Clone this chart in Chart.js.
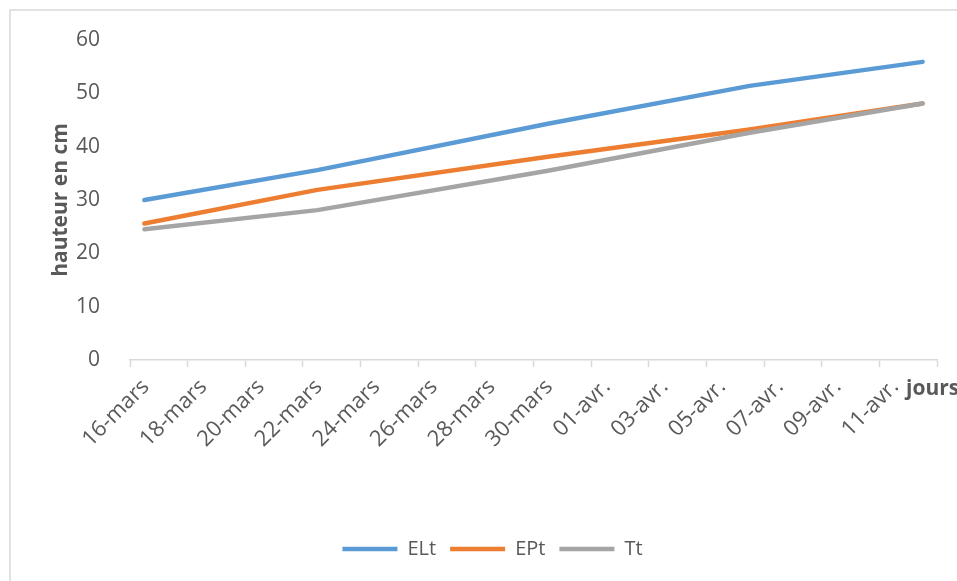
<!DOCTYPE html>
<html>
<head>
<meta charset="utf-8">
<script src="https://cdn.jsdelivr.net/npm/chart.js@4/dist/chart.umd.min.js"></script>
<style>
  html, body { margin: 0; padding: 0; background: #ffffff; }
  #wrap { position: relative; width: 957px; height: 581px; overflow: hidden; }
  canvas { display: block; }
</style>
</head>
<body>
<div id="wrap"><canvas id="c" width="957" height="581"></canvas></div>
<script>
// Measurement days (days counted from 16 March) and their dates
const measureDays = [0, 6, 14, 21, 27];
const measureDates = ['16-mars', '22-mars', '30-mars', '06-avr.', '12-avr.'];

// Plant height (cm) per treatment
const ELt = [30.0, 35.6, 44.3, 51.4, 55.9];
const EPt = [25.6, 31.9, 38.1, 43.2, 48.1];
const Tt  = [24.5, 28.1, 35.5, 42.6, 48.1];

// Date labels shown on the time axis, one every two days
const dayLabels = ['16-mars', '18-mars', '20-mars', '22-mars', '24-mars', '26-mars', '28-mars',
                   '30-mars', '01-avr.', '03-avr.', '05-avr.', '07-avr.', '09-avr.', '11-avr.'];

const yTicks = [0, 10, 20, 30, 40, 50, 60];

const TEXT = '#595959';
const LINE = '#d9d9d9';
const FONT = "'Open Sans', 'DejaVu Sans', sans-serif";

const toPoints = vals => vals.map((v, i) => ({ x: measureDays[i], y: v }));

// label index for a tick value (labels sit in the middle of each two-day group)
function labelIndex(value) {
  const k = (value - 0.5) / 2;
  return Number.isInteger(k) && k >= 0 && k < dayLabels.length ? k : -1;
}

const frame = {
  id: 'frame',
  beforeDraw(chart) {
    const ctx = chart.ctx;
    ctx.save();
    ctx.fillStyle = '#ffffff';
    ctx.fillRect(0, 0, chart.width, chart.height);
    ctx.strokeStyle = LINE;
    ctx.lineWidth = 1.5;
    ctx.strokeRect(10, 10, chart.width + 20, chart.height + 20);
    ctx.restore();
  }
};

const axisName = {
  id: 'axisName',
  afterDraw(chart) {
    const ctx = chart.ctx;
    const xs = chart.scales.x;
    ctx.save();
    ctx.font = `bold 21px ${FONT}`;
    ctx.fillStyle = TEXT;
    ctx.textAlign = 'left';
    ctx.textBaseline = 'middle';
    ctx.fillText('jours', chart.chartArea.right - 31, xs.top + 29);
    ctx.restore();
  }
};

const common = {
  fill: false,
  borderWidth: 4.5,
  pointRadius: 0,
  pointHoverRadius: 0,
  tension: 0,
  borderCapStyle: 'round',
  borderJoinStyle: 'round',
  pointStyle: 'line'
};

new Chart(document.getElementById('c'), {
  type: 'line',
  data: {
    datasets: [
      { ...common, label: 'ELt', data: toPoints(ELt), borderColor: '#5B9BD5', backgroundColor: '#5B9BD5', order: 2 },
      { ...common, label: 'EPt', data: toPoints(EPt), borderColor: '#ED7D31', backgroundColor: '#ED7D31', order: 1 },
      { ...common, label: 'Tt',  data: toPoints(Tt),  borderColor: '#A5A5A5', backgroundColor: '#A5A5A5', order: 0 }
    ]
  },
  plugins: [frame, axisName],
  options: {
    responsive: false,
    animation: false,
    devicePixelRatio: 1,
    layout: { padding: { left: 48, right: 20, top: 40, bottom: 12 } },
    plugins: {
      tooltip: { enabled: false },
      legend: {
        position: 'bottom',
        labels: {
          usePointStyle: true,
          pointStyleWidth: 55,
          boxHeight: 20,
          padding: 14,
          color: TEXT,
          font: { family: FONT, size: 20 },
          sort: (a, b) => a.datasetIndex - b.datasetIndex
        }
      }
    },
    scales: {
      x: {
        type: 'linear',
        min: -0.5,
        max: 27.5,
        afterBuildTicks(scale) {
          const t = [];
          for (let k = 0; k <= dayLabels.length; k++) {
            t.push({ value: -0.5 + 2 * k });
            if (k < dayLabels.length) t.push({ value: 0.5 + 2 * k });
          }
          scale.ticks = t;
        },
        afterFit(scale) {
          scale.height = 165;
          scale.paddingRight = 0;
        },
        grid: {
          display: true,
          drawOnChartArea: false,
          drawTicks: true,
          tickLength: 7,
          tickWidth: 1.5,
          tickColor: ctx => (ctx.tick && labelIndex(ctx.tick.value) >= 0) ? 'rgba(0,0,0,0)' : LINE
        },
        border: { display: true, color: LINE, width: 1.5 },
        ticks: {
          autoSkip: false,
          minRotation: 45,
          maxRotation: 45,
          padding: 7,
          labelOffset: -13,
          color: TEXT,
          font: { family: FONT, size: 22 },
          callback: value => {
            const i = labelIndex(value);
            return i >= 0 ? dayLabels[i] : '';
          }
        }
      },
      y: {
        min: 0,
        max: 60,
        afterBuildTicks(scale) { scale.ticks = yTicks.map(v => ({ value: v })); },
        afterFit(scale) { scale.width = 82; },
        grid: { display: false },
        border: { display: false },
        title: {
          display: true,
          text: 'hauteur en cm',
          color: TEXT,
          font: { family: FONT, size: 21, weight: 'bold' },
          padding: 0
        },
        ticks: {
          padding: 22,
          color: TEXT,
          font: { family: FONT, size: 21 }
        }
      }
    }
  }
});
</script>
</body>
</html>
